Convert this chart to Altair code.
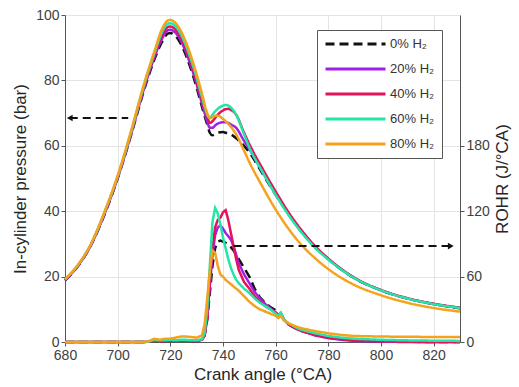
import altair as alt
import pandas as pd

series = ["0% H₂", "20% H₂", "40% H₂", "60% H₂", "80% H₂"]
colors = ["#111111", "#a21fe6", "#e3125c", "#22e6a6", "#f5a21c"]
dashes = [[9, 5], [1, 0], [1, 0], [1, 0], [1, 0]]

# In-cylinder pressure (bar)
ca_p = [680, 685, 690, 695, 700, 705, 710, 714, 717, 719, 720, 721, 723, 726, 729, 732, 734, 735,
        736, 737, 738, 740, 741, 742, 743, 745, 748, 750, 755, 760, 765, 770, 775, 780, 790, 800,
        810, 820, 830]
p_0 = [18.8, 23.3, 29.8, 39.0, 50.0, 63.0, 77.0, 86.5, 92.0, 94.3, 94.5, 94.2, 92.5, 87.5, 80.5,
       72.0, 66.5, 64.0, 63.2, 63.5, 64.0, 64.2, 64.0, 63.8, 63.5, 62.3, 60.0, 58.0, 51.5, 45.0,
       39.0, 33.5, 29.0, 25.3, 19.5, 15.8, 13.3, 11.6, 10.3]
p_20 = [18.9, 23.4, 29.9, 39.2, 50.2, 63.3, 77.5, 87.2, 93.0, 95.3, 95.5, 95.2, 93.5, 88.5, 81.5,
        73.0, 67.5, 65.5, 65.5, 66.2, 66.8, 67.2, 67.2, 67.0, 66.5, 65.5, 61.5, 59.0, 52.0, 45.3,
        39.2, 33.7, 29.1, 25.4, 19.5, 15.8, 13.3, 11.6, 10.4]
p_40 = [19.0, 23.5, 30.0, 39.4, 50.4, 63.6, 78.0, 87.8, 94.0, 96.3, 96.5, 96.2, 94.5, 89.5, 82.5,
        74.0, 69.0, 67.0, 67.5, 68.5, 69.5, 70.8, 71.2, 71.3, 71.0, 69.5, 64.0, 60.5, 53.0, 46.0,
        39.5, 34.0, 29.3, 25.5, 19.6, 15.9, 13.4, 11.7, 10.5]
p_60 = [19.1, 23.6, 30.1, 39.6, 50.6, 63.9, 78.4, 88.4, 95.0, 97.3, 97.5, 97.2, 95.5, 90.5, 83.5,
        75.0, 69.5, 68.5, 69.5, 70.5, 71.3, 72.3, 72.5, 72.3, 71.7, 69.5, 63.5, 59.5, 52.0, 45.0,
        38.7, 33.3, 28.8, 25.2, 19.5, 15.8, 13.3, 11.6, 10.4]
p_80 = [19.2, 23.7, 30.3, 39.8, 50.9, 64.3, 78.9, 89.0, 96.0, 98.3, 98.5, 98.2, 96.5, 91.5, 84.5,
        76.0, 70.0, 68.5, 68.7, 69.2, 69.2, 68.2, 67.5, 66.7, 65.8, 63.5, 58.5, 55.0, 47.5, 40.5,
        34.5, 29.5, 25.6, 22.3, 17.4, 14.3, 12.0, 10.4, 9.3]

# ROHR (J/°CA)
ca_r = [680, 705, 710, 712, 714, 716, 718, 720, 722, 724, 726, 728, 730, 732, 733, 734, 735, 736,
        737, 738, 739, 740, 741, 742, 743, 744, 745, 746, 748, 750, 752, 754, 756, 758, 760, 761,
        762, 763, 765, 768, 770, 775, 780, 785, 790, 800, 810, 820, 830]
r_0 = [0, 0, 0, 0.5, 1.5, 1, 1, 1.5, 1, 1.5, 1.5, 1, 1, 2, 6, 20, 45, 70, 86, 92, 93, 92, 91, 89,
       87, 84, 80, 76, 68, 60, 49, 41, 36, 32, 29, 27, 26, 21, 16, 12, 10, 6.5, 4, 2.5, 1.5, 0.5,
       0.2, 0, 0]
r_20 = [0, 0, 0, 0.5, 1.5, 1, 1, 1.5, 1, 1.5, 1.5, 1, 1, 2, 6, 22, 52, 80, 98, 105, 107, 104, 100,
        97, 94, 88, 80, 72, 62, 54, 46, 40, 35, 31, 27, 25, 26, 21, 16, 12, 10, 6, 3.5, 2, 1, 0.3,
        0, 0, 0]
r_40 = [0, 0, 0, 0.5, 1.5, 1, 1, 1.5, 1, 1.5, 1.5, 1, 1, 2, 6, 22, 55, 85, 105, 112, 114, 119,
        121, 112, 100, 88, 76, 66, 55, 49, 42, 37, 33, 30, 27, 25, 26, 21, 16, 12, 10, 6.5, 4, 2.5,
        1.5, 0.5, 0.2, 0, 0]
r_60 = [0, 0, 0, 0.5, 2, 1.5, 1.5, 2, 1.5, 2, 2, 1.5, 1.5, 2.5, 8, 30, 70, 110, 123, 118, 108, 96,
        86, 76, 68, 62, 57, 54, 49, 45, 40, 36, 33, 30, 26, 24, 27, 21, 17, 13, 11, 8, 5.5, 4, 3,
        2, 1.5, 1.2, 1]
r_80 = [0, 0, 0, 1, 3, 2, 3, 3, 4, 5, 5, 4.5, 4, 6, 16, 40, 65, 84, 82, 70, 62, 60, 57, 55, 53, 51,
        49, 47, 42, 37, 33, 30, 28, 26, 24, 22, 24, 20, 17, 14, 12.5, 10, 8, 6.5, 5.5, 5, 4.8, 4.6,
        4.5]

# Annotation arrows (which axis each curve family belongs to)
arrow_p_ca = [681.8, 704]
arrow_p_val = [68.5, 68.5]
arrow_r_ca = [744, 826.5]
arrow_r_val = [88, 88]

p_rows = []
for s, vals in zip(series, [p_0, p_20, p_40, p_60, p_80]):
    for c, v in zip(ca_p, vals):
        p_rows.append({"series": s, "ca": c, "val": v})
r_rows = []
for s, vals in zip(series, [r_0, r_20, r_40, r_60, r_80]):
    for c, v in zip(ca_r, vals):
        r_rows.append({"series": s, "ca": c, "val": v})
dp = pd.DataFrame(p_rows)
dr = pd.DataFrame(r_rows)
order_map = {s: i for i, s in enumerate(series)}
dp["ord"] = dp["series"].map(order_map)
dr["ord"] = dr["series"].map(order_map)

ap = pd.DataFrame({"ca": arrow_p_ca, "val": arrow_p_val})
ar = pd.DataFrame({"ca": arrow_r_ca, "val": arrow_r_val})
ap_head = ap.iloc[[0]]
ar_head = ar.iloc[[1]]

FONT = "Liberation Sans"
xscale = alt.Scale(domain=[680, 830], nice=False, zero=False)
xaxis = alt.Axis(title="Crank angle (°CA)", values=list(range(680, 830, 20)), grid=True,
                 gridColor="#e4e4e4", domainColor="#555555", tickColor="#555555", tickSize=4,
                 labelFontSize=14, labelColor="#404040", titleFontSize=17, titleColor="#262626",
                 titleFontWeight="normal", labelFont=FONT, titleFont=FONT, titlePadding=4,
                 labelPadding=2, labelFlush=False)

pscale = alt.Scale(domain=[0, 100], nice=False)
rscale = alt.Scale(domain=[0, 300], nice=False)

color_scale = alt.Scale(domain=series, range=colors)
dash_scale = alt.Scale(domain=series, range=dashes)

legend = alt.Legend(title=None, orient="none", legendX=252, legendY=15, symbolType="stroke",
                    symbolSize=3600, symbolStrokeWidth=3, labelFontSize=13, labelFont=FONT,
                    labelColor="#333333", fillColor="white", strokeColor="#555555", padding=7,
                    rowPadding=11, labelOffset=3, clipHeight=14)

p_lines = alt.Chart(dp).mark_line(strokeWidth=2.5, interpolate="monotone").encode(
    x=alt.X("ca:Q", scale=xscale, axis=xaxis),
    y=alt.Y("val:Q", scale=pscale,
            axis=alt.Axis(title="In-cylinder pressure (bar)", values=[0, 20, 40, 60, 80, 100],
                          grid=True, gridColor="#e4e4e4", domainColor="#555555",
                          tickColor="#555555", tickSize=4, labelFontSize=14, labelColor="#404040",
                          titleFontSize=17, titleColor="#262626", titleFontWeight="normal",
                          labelFont=FONT, titleFont=FONT, titlePadding=6, labelPadding=2,
                          labelFlush=False)),
    color=alt.Color("series:N", scale=color_scale, legend=legend),
    strokeDash=alt.StrokeDash("series:N", scale=dash_scale, legend=legend),
    order="ord:Q",
)
p_arrow = alt.Chart(ap).mark_line(color="#111111", strokeWidth=2, strokeDash=[8, 5]).encode(
    x=alt.X("ca:Q", scale=xscale), y=alt.Y("val:Q", scale=pscale))
p_head = alt.Chart(ap_head).mark_point(shape="triangle-left", filled=True, color="#111111",
                                       size=45, opacity=1).encode(
    x=alt.X("ca:Q", scale=xscale), y=alt.Y("val:Q", scale=pscale))
left = alt.layer(p_lines, p_arrow, p_head)

r_lines = alt.Chart(dr).mark_line(strokeWidth=2.5).encode(
    x=alt.X("ca:Q", scale=xscale),
    y=alt.Y("val:Q", scale=rscale,
            axis=alt.Axis(title="ROHR (J/°CA)", orient="right", values=[0, 60, 120, 180],
                          grid=False, domainColor="#555555", tickColor="#555555", tickSize=4,
                          labelFontSize=14, labelColor="#404040", titleFontSize=17,
                          titleColor="#262626", titleFontWeight="normal", labelFont=FONT,
                          titleFont=FONT, titleAngle=270, titlePadding=22, labelPadding=2,
                          labelFlush=False)),
    color=alt.Color("series:N", scale=color_scale, legend=None),
    strokeDash=alt.StrokeDash("series:N", scale=dash_scale, legend=None),
    order="ord:Q",
)
r_arrow = alt.Chart(ar).mark_line(color="#111111", strokeWidth=2, strokeDash=[8, 5]).encode(
    x=alt.X("ca:Q", scale=xscale), y=alt.Y("val:Q", scale=rscale))
r_head = alt.Chart(ar_head).mark_point(shape="triangle-right", filled=True, color="#111111",
                                       size=45, opacity=1).encode(
    x=alt.X("ca:Q", scale=xscale), y=alt.Y("val:Q", scale=rscale))
right = alt.layer(r_lines, r_arrow, r_head)

chart = alt.layer(left, right).resolve_scale(y="independent").properties(
    width=395, height=327,
    autosize=alt.AutoSizeParams(type="none"),
    padding={"left": 65, "top": 15, "right": 59, "bottom": 45},
    background="white",
).configure_view(stroke=None)

chart.save("out.html", embed_options={"renderer": "svg", "actions": False})
